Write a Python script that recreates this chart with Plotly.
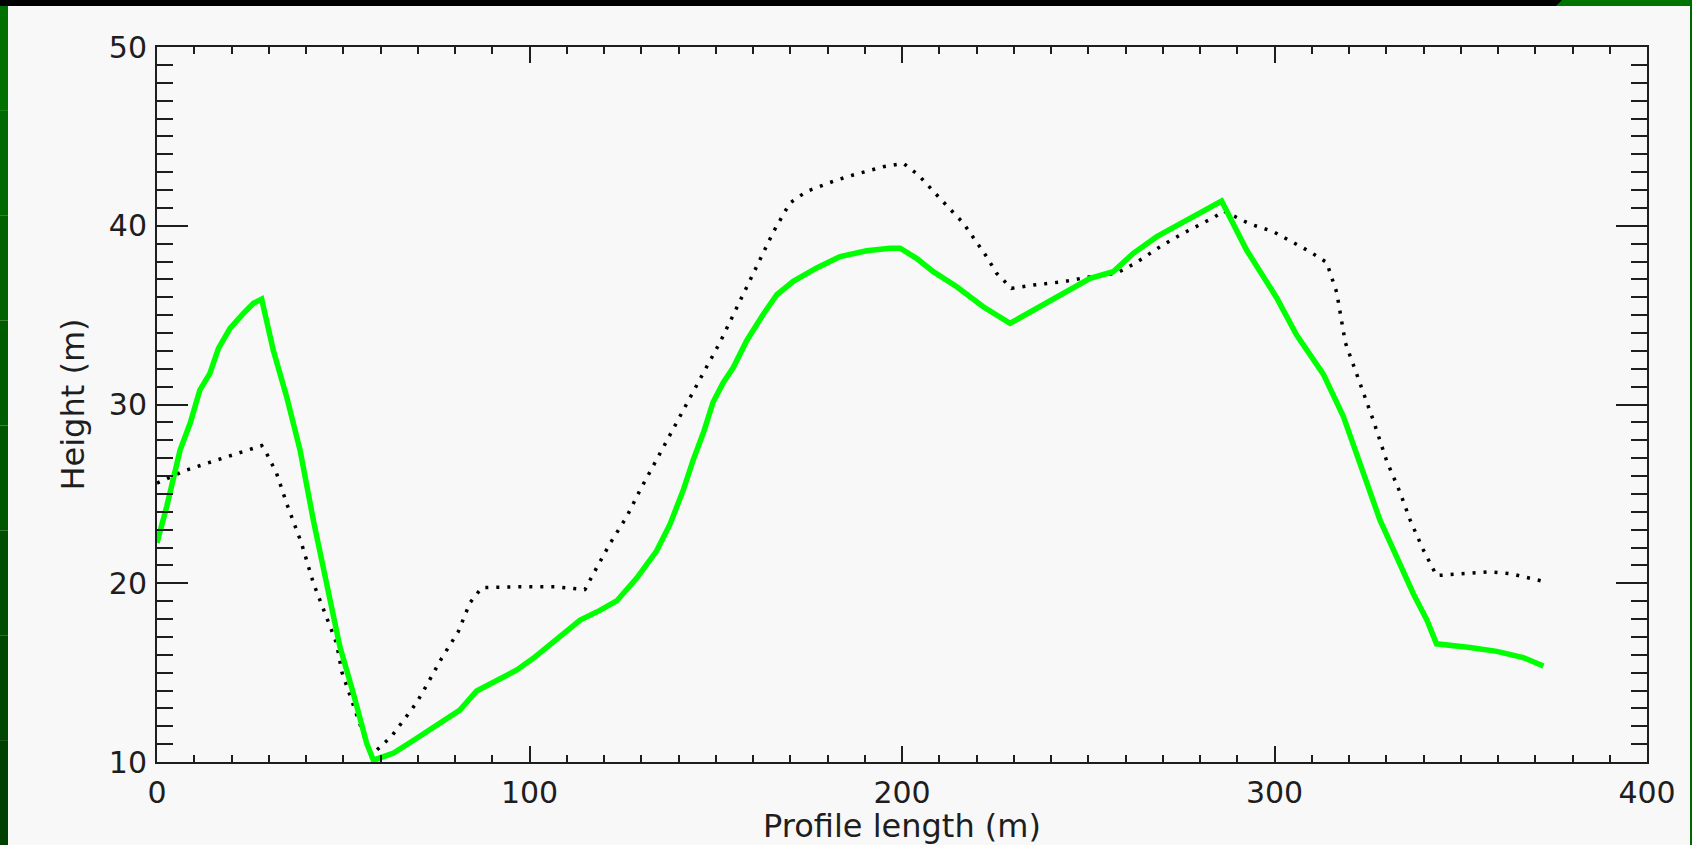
import plotly.graph_objects as go

# Profile distance (m) and heights (m)
model_x = [0, 2.6, 6.2, 8.9, 11.5, 14.2, 16.5, 19.6, 23.2, 25.9, 28.1, 31.2, 34.8, 38.4, 42.0,
           45.6, 49.1, 52.7, 56.3, 58.1, 63.5, 68.8, 72.5, 76.9, 81.3, 85.8, 92.1, 96.6, 101.0,
           108.2, 113.6, 118.9, 123.4, 128.8, 134.1, 137.7, 141.3, 144.0, 146.7, 149.3, 152.0,
           154.7, 158.3, 162.8, 166.4, 170.8, 177.1, 183.4, 190.5, 196.8, 199.5, 203.9, 208.4,
           214.7, 221.8, 229.0, 236.2, 243.3, 250.5, 256.7, 262.1, 268.4, 275.5, 280.9, 285.8,
           292.5, 297.9, 300.6, 305.9, 309.5, 313.1, 318.5, 322.9, 328.3, 332.8, 337.3, 340.9,
           343.5, 352.5, 359.7, 366.8, 372.2]
model_y = [22.27, 24.28, 27.45, 28.95, 30.81, 31.74, 33.14, 34.26, 35.1, 35.66, 35.9, 33.05, 30.44,
           27.45, 23.5, 19.81, 16.45, 13.84, 11.04, 10.1, 10.5, 11.2, 11.7, 12.27, 12.9, 13.97,
           14.62, 15.15, 15.8, 17.08, 17.94, 18.48, 19.01, 20.29, 21.8, 23.29, 25.22, 26.93, 28.43,
           30.14, 31.22, 32.07, 33.57, 35.06, 36.14, 36.89, 37.64, 38.28, 38.6, 38.74, 38.74, 38.18,
           37.43, 36.59, 35.47, 34.54, 35.38, 36.22, 37.06, 37.43, 38.46, 39.39, 40.23, 40.88,
           41.38, 38.64, 36.78, 35.96, 33.9, 32.86, 31.7, 29.33, 26.64, 23.54, 21.47, 19.4, 17.95,
           16.61, 16.4, 16.19, 15.84, 15.37]

ref_x = [0, 2.6, 7.5, 15.6, 20.9, 25.9, 28.1, 29.4, 32.1, 34.8, 38.8, 42.0, 45.1, 48.2, 49.6,
         57.5, 58.8, 63.0, 66.4, 69.7, 72.4, 76.4, 80.9, 84.0, 87.2, 95.7, 106.8, 114.9, 117.1,
         121.6, 126.1, 129.7, 135.0, 140.4, 145.8, 151.1, 156.1, 161.0, 165.5, 169.9, 174.4,
         182.5, 186.9, 195.0, 200.4, 204.4, 208.4, 210.6, 216.5, 219.6, 222.7, 225.4, 227.7,
         229.4, 235.3, 243.3, 250.5, 257.6, 262.6, 269.3, 274.6, 279.5, 284.0, 286.3, 293.4,
         299.7, 304.6, 309.5, 314.0, 316.7, 319.0, 322.9, 326.5, 330.1, 333.7, 336.4, 339.9,
         343.5, 349.8, 357.9, 363.2, 371.7]
ref_y = [25.6, 25.83, 26.3, 26.86, 27.23, 27.58, 27.7, 27.27, 26.15, 24.47, 22.23, 20.0, 18.32,
         16.64, 15.05, 10.3, 10.63, 11.45, 12.39, 13.32, 14.3, 15.8, 17.3, 18.9, 19.76, 19.8, 19.8,
         19.65, 20.51, 22.22, 23.72, 25.22, 27.25, 29.39, 31.43, 33.46, 35.6, 37.74, 39.67, 41.27,
         41.92, 42.56, 42.84, 43.3, 43.49, 42.84, 41.9, 41.44, 40.14, 39.2, 38.27, 37.34, 36.87,
         36.5, 36.68, 36.87, 37.15, 37.34, 37.9, 38.83, 39.48, 40.04, 40.5, 40.83, 40.1, 39.67,
         39.1, 38.55, 37.95, 36.27, 33.47, 31.2, 29.13, 26.85, 25.09, 23.54, 21.89, 20.43, 20.54,
         20.64, 20.54, 20.13]

x_title = "Profile length (m)"
y_title = "Height (m)"

W, H = 1692, 845
L, R, T, B = 157, 45, 47, 83
PW, PH = W - L - R, H - T - B

def px_x(p):
    return (p - L) / PW

def px_y(p):
    return (H - B - p) / PH

FONT = "DejaVu Sans"
INK = "#1e1e1e"
BG = "#f8f8f8"

fig = go.Figure()
fig.add_trace(go.Scatter(x=ref_x, y=ref_y, mode="lines",
                         line=dict(color="#000000", width=3.5, dash="3px,8px"),
                         showlegend=False, hoverinfo="skip"))
fig.add_trace(go.Scatter(x=model_x, y=model_y, mode="lines",
                         line=dict(color="#00ff00", width=5.5),
                         showlegend=False, hoverinfo="skip"))

axis_common = dict(
    showgrid=False, zeroline=False, showline=True, linecolor=INK, linewidth=2,
    mirror="ticks", ticks="inside", tickcolor=INK, tickwidth=2,
    tickfont=dict(family=FONT, size=30, color=INK),
)

fig.update_xaxes(range=[0, 400], tickmode="linear", tick0=0, dtick=100, ticklen=16,
                 minor=dict(dtick=10, ticks="inside", ticklen=7, tickcolor=INK, tickwidth=2),
                 ticklabelstandoff=3,
                 title=dict(text=x_title, font=dict(family=FONT, size=32, color=INK), standoff=16),
                 **axis_common)
fig.update_yaxes(range=[10, 50], tickmode="linear", tick0=10, dtick=10, ticklen=31,
                 minor=dict(dtick=1, ticks="inside", ticklen=16, tickcolor=INK, tickwidth=2),
                 ticklabelstandoff=2,
                 title=dict(text=y_title, font=dict(family=FONT, size=32, color=INK), standoff=15),
                 **axis_common)

shapes = []
# black strip at top
shapes.append(dict(type="rect", xref="paper", yref="paper", x0=px_x(0), x1=px_x(1562),
                   y0=px_y(6), y1=px_y(0), fillcolor="#000000", line=dict(width=0), layer="above"))
shapes.append(dict(type="path", xref="paper", yref="paper",
                   path=f"M {px_x(1556)},{px_y(6)} L {px_x(1562)},{px_y(0)} L {px_x(W)},{px_y(0)} L {px_x(W)},{px_y(6)} Z",
                   fillcolor="#007400", line=dict(width=0), layer="above"))
# left green strip with darkening gradient
greens = ["#007000", "#006a00", "#006300", "#005c00", "#005500", "#004e00", "#004700", "#004000"]
n = len(greens)
for i, c in enumerate(greens):
    y0p = 6 + (H - 6) * i / n
    y1p = 6 + (H - 6) * (i + 1) / n
    shapes.append(dict(type="rect", xref="paper", yref="paper", x0=px_x(0), x1=px_x(8),
                       y0=px_y(y1p), y1=px_y(y0p), fillcolor=c, line=dict(width=0), layer="above"))
# right green strip
shapes.append(dict(type="rect", xref="paper", yref="paper", x0=px_x(1690), x1=px_x(W),
                   y0=px_y(H), y1=px_y(0), fillcolor="#006800", line=dict(width=0), layer="above"))

fig.update_layout(
    width=W, height=H,
    margin=dict(l=L, r=R, t=T, b=B, autoexpand=False),
    paper_bgcolor=BG, plot_bgcolor=BG,
    shapes=shapes,
    font=dict(family=FONT, color=INK),
)
fig.update_xaxes(automargin=False)
fig.update_yaxes(automargin=False)

fig.write_html("out.html",
               config={"displayModeBar": False},
               post_script="document.body.style.margin='0px';document.body.style.overflow='hidden';")
